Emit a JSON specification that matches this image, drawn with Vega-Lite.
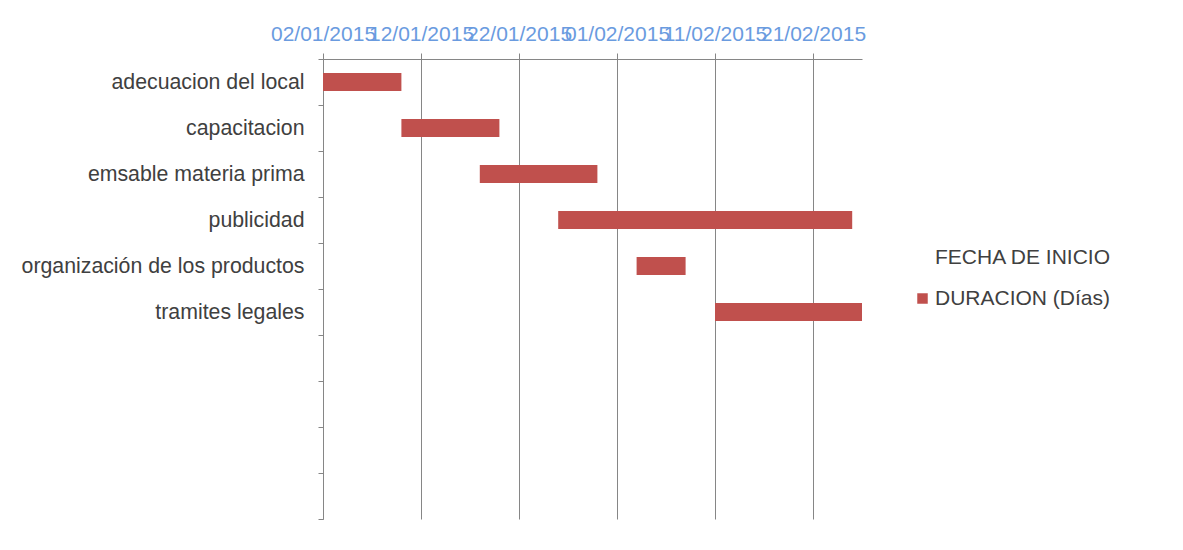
{
  "$schema": "https://vega.github.io/schema/vega-lite/v6.json",
  "autosize": {"type": "none"},
  "padding": {"left": 323, "top": 59, "right": 321, "bottom": 31},
  "width": 539,
  "height": 460,
  "background": "white",
  "config": {
    "font": "Liberation Sans",
    "view": {"stroke": null}
  },
  "data": {
    "values": [
      {"tarea": "adecuacion del local", "inicio": "2015-01-02T00:00:00Z", "fin": "2015-01-10T00:00:00Z", "duracion": 8},
      {"tarea": "capacitacion", "inicio": "2015-01-10T00:00:00Z", "fin": "2015-01-20T00:00:00Z", "duracion": 10},
      {"tarea": "emsable materia prima", "inicio": "2015-01-18T00:00:00Z", "fin": "2015-01-30T00:00:00Z", "duracion": 12},
      {"tarea": "publicidad", "inicio": "2015-01-26T00:00:00Z", "fin": "2015-02-25T00:00:00Z", "duracion": 30},
      {"tarea": "organización de los productos", "inicio": "2015-02-03T00:00:00Z", "fin": "2015-02-08T00:00:00Z", "duracion": 5},
      {"tarea": "tramites legales", "inicio": "2015-02-11T00:00:00Z", "fin": "2015-02-26T00:00:00Z", "duracion": 15}
    ]
  },
  "mark": {"type": "bar", "size": 18},
  "encoding": {
    "y": {
      "field": "tarea",
      "type": "nominal",
      "title": null,
      "scale": {
        "domain": ["adecuacion del local", "capacitacion", "emsable materia prima", "publicidad", "organización de los productos", "tramites legales", " ", "  ", "   ", "    "],
        "paddingInner": 0,
        "paddingOuter": 0
      },
      "axis": {
        "orient": "left",
        "tickBand": "extent",
        "tickSize": 5,
        "tickColor": "#868686",
        "domainColor": "#868686",
        "labelFontSize": 21.3,
        "labelColor": "#404040",
        "labelPadding": 14,
        "labelLimit": 400,
        "grid": false
      }
    },
    "x": {
      "field": "inicio",
      "type": "temporal",
      "title": null,
      "scale": {
        "type": "utc",
        "domain": ["2015-01-02T00:00:00Z", "2015-02-26T00:00:00Z"],
        "nice": false
      },
      "axis": {
        "orient": "top",
        "values": ["2015-01-02T00:00:00Z", "2015-01-12T00:00:00Z", "2015-01-22T00:00:00Z", "2015-02-01T00:00:00Z", "2015-02-11T00:00:00Z", "2015-02-21T00:00:00Z"],
        "format": "%d/%m/%Y",
        "labelFontSize": 21,
        "labelColor": "#6A9BDF",
        "labelPadding": 9,
        "labelOverlap": false,
        "labelFlush": false,
        "tickSize": 6,
        "tickColor": "#868686",
        "domainColor": "#868686",
        "grid": true,
        "gridColor": "#868686",
        "gridOpacity": 1
      }
    },
    "x2": {"field": "fin"},
    "color": {
      "datum": "DURACION (Días)",
      "type": "nominal",
      "scale": {
        "domain": ["FECHA DE INICIO", "DURACION (Días)"],
        "range": ["transparent", "#C0504D"]
      },
      "legend": {
        "title": null,
        "orient": "none",
        "legendX": 589,
        "legendY": 188,
        "symbolType": "square",
        "symbolSize": 110,
        "labelFontSize": 21,
        "labelColor": "#404040",
        "labelOffset": 2,
        "labelLimit": 400,
        "rowPadding": 19
      }
    }
  }
}
